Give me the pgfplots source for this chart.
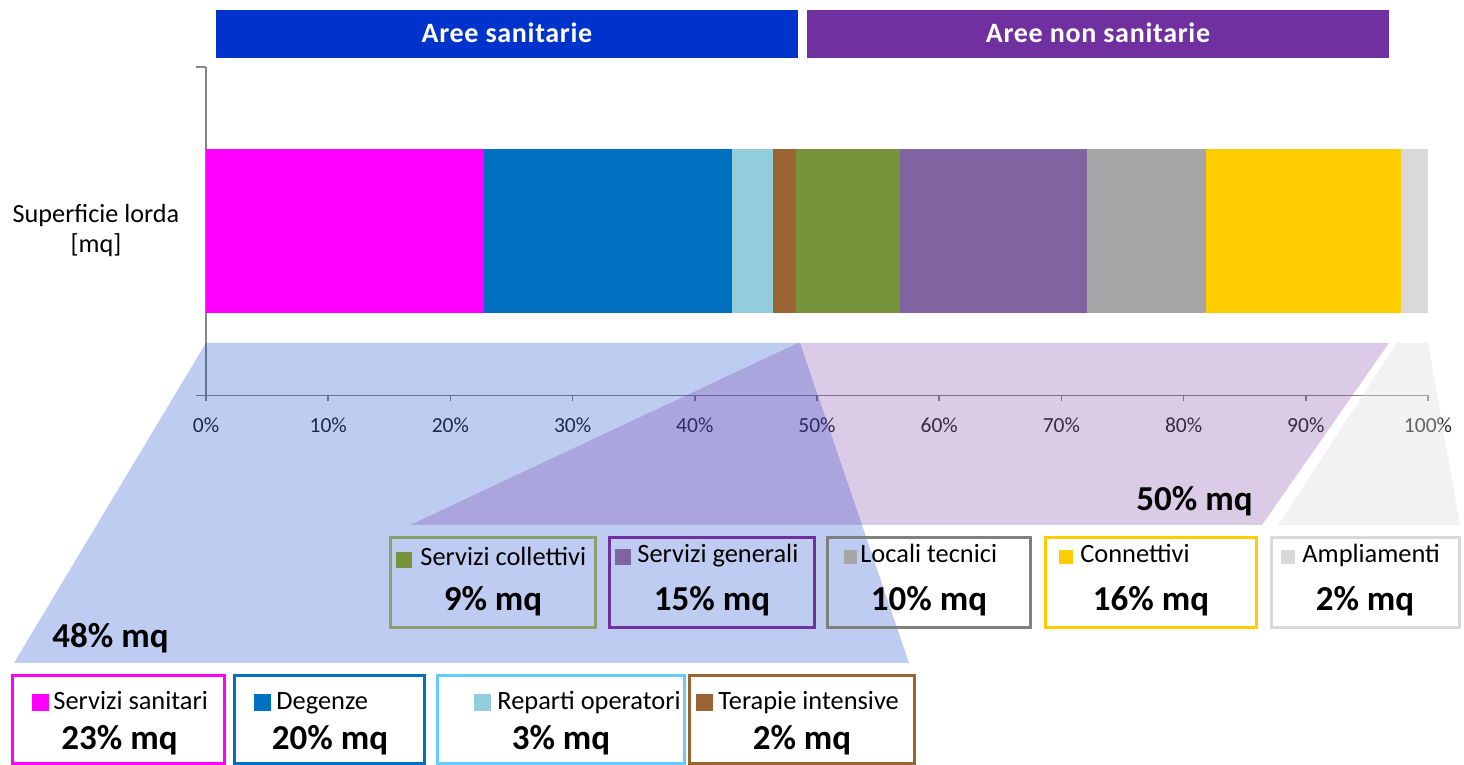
\documentclass[border=0pt]{standalone}
\usepackage{pgfplots}
\pgfplotsset{compat=1.18}
\usepackage{fontspec}
\setmainfont{Carlito}
\newfontfamily\hdr[LetterSpace=2.5]{Carlito}
\definecolor{cSan}{HTML}{FF00FF}
\definecolor{cDeg}{HTML}{0070C0}
\definecolor{cRep}{HTML}{92CDDC}
\definecolor{cTer}{HTML}{996633}
\definecolor{cCol}{HTML}{77933C}
\definecolor{cGen}{HTML}{8064A2}
\definecolor{cLoc}{HTML}{A6A6A6}
\definecolor{cCon}{HTML}{FFCC00}
\definecolor{cAmp}{HTML}{D9D9D9}
\definecolor{hblue}{HTML}{0033CC}
\definecolor{hpurple}{HTML}{7030A0}
\definecolor{axisgray}{HTML}{868686}
\definecolor{labelblack}{HTML}{262626}
\definecolor{bCol}{HTML}{8CA06E}
\definecolor{bGen}{HTML}{7030A0}
\definecolor{bLoc}{HTML}{808080}
\definecolor{bCon}{HTML}{FFCC00}
\definecolor{bAmp}{HTML}{D9D9D9}
\definecolor{bSan}{HTML}{FF00FF}
\definecolor{bDeg}{HTML}{0070C0}
\definecolor{bRep}{HTML}{66CCFF}
\definecolor{bTer}{HTML}{996633}
\newcommand{\lblfont}{\fontsize{13.2}{15}\selectfont}
\newcommand{\pctfont}{\bfseries\fontsize{17.5}{20}\selectfont}
\begin{document}
\begin{tikzpicture}
\path[use as bounding box] (-103pt,-184.75pt) rectangle (629pt,197.75pt);
\begin{axis}[
  at={(0pt,0pt)}, anchor=south west,
  scale only axis, width=611pt, height=164.25pt,
  xmin=0, xmax=100, ymin=0, ymax=1,
  xbar stacked, bar width=0.5,
  axis x line*=bottom, axis y line*=left,
  axis line style={color=axisgray, line width=0.75pt},
  xtick={0,10,...,100},
  xticklabel={\pgfmathprintnumber{\tick}\%},
  ytick={0,1}, yticklabels={},
  tick align=outside,
  major tick length=5pt,
  xtick style={color=axisgray, line width=0.75pt, /pgfplots/major tick length=3pt},
  ytick style={color=axisgray, line width=0.75pt},
  tick label style={font=\fontsize{10.75}{12}\selectfont, text=labelblack},
  /pgf/number format/assume math mode=true,
  xticklabel style={yshift=-2.5pt},
  clip=false,
]
\addplot[fill=cSan, draw=none] coordinates {(22.75,0.5)};
\addplot[fill=cDeg, draw=none] coordinates {(20.29,0.5)};
\addplot[fill=cRep, draw=none] coordinates {(3.36,0.5)};
\addplot[fill=cTer, draw=none] coordinates {(1.88,0.5)};
\addplot[fill=cCol, draw=none] coordinates {(8.51,0.5)};
\addplot[fill=cGen, draw=none] coordinates {(15.30,0.5)};
\addplot[fill=cLoc, draw=none] coordinates {(9.74,0.5)};
\addplot[fill=cCon, draw=none] coordinates {(15.96,0.5)};
\addplot[fill=cAmp, draw=none] coordinates {(2.21,0.5)};
\end{axis}
\begin{scope}[xshift=-103pt, yshift=197.75pt, x=0.5pt, y=-0.5pt]
% zoom trapezoids
\fill[hblue, opacity=0.25] (206,343) -- (800,343) -- (909,663) -- (14,663) -- cycle;
\fill[hpurple, opacity=0.25] (798,343) -- (1389,343) -- (1262,525) -- (410,525) -- cycle;
\fill[cAmp, opacity=0.34] (1397,343) -- (1428,343) -- (1460,525) -- (1278,525) -- cycle;
% headers
\fill[hblue] (216,10) rectangle (798,58);
\node[text=white, font=\hdr\bfseries\fontsize{14}{16}\selectfont, anchor=base] at (507,43) {Aree sanitarie};
\fill[hpurple] (807,10) rectangle (1389,58);
\node[text=white, font=\hdr\bfseries\fontsize{14}{16}\selectfont, anchor=base] at (1098,43) {Aree non sanitarie};
% y label
\node[align=center, text=black, font=\fontsize{13.1}{15}\selectfont] at (96,231) {Superficie lorda\\{[mq]}};
% group totals
\node[anchor=base west, font=\pctfont, inner sep=0pt] at (52,648) {48\% mq};
\node[anchor=base east, font=\pctfont, inner sep=0pt] at (1253,511) {50\% mq};
% row 1 boxes
\draw[bCol, line width=1.5pt] (390.5,537.5) rectangle (595.5,627.5);
\draw[bGen, line width=1.5pt] (609.5,537.5) rectangle (814.5,627.5);
\draw[bLoc, line width=1.5pt] (827.5,537.5) rectangle (1030,627.5);
\draw[bCon, line width=1.5pt] (1045.5,537.5) rectangle (1256,627.5);
\draw[bAmp, line width=1.5pt] (1271,537.5) rectangle (1459.5,627.5);
\fill[cCol] (396,552) rectangle (412,568);
\node[anchor=base west, inner sep=0pt, font=\lblfont] at (420,566) {Servizi collettivi};
\fill[cGen] (615,549) rectangle (631,565);
\node[anchor=base west, inner sep=0pt, font=\lblfont] at (637,563) {Servizi generali};
\fill[cLoc] (844,550) rectangle (857,564);
\node[anchor=base west, inner sep=0pt, font=\lblfont] at (860,563) {Locali tecnici};
\fill[cCon] (1059,550) rectangle (1073,564);
\node[anchor=base west, inner sep=0pt, font=\lblfont] at (1080,563) {Connettivi};
\fill[cAmp] (1281,550) rectangle (1295,564);
\node[anchor=base west, inner sep=0pt, font=\lblfont] at (1302,563) {Ampliamenti};
\node[anchor=base, inner sep=0pt, font=\pctfont] at (493,611) {9\% mq};
\node[anchor=base, inner sep=0pt, font=\pctfont] at (712,611) {15\% mq};
\node[anchor=base, inner sep=0pt, font=\pctfont] at (929,611) {10\% mq};
\node[anchor=base, inner sep=0pt, font=\pctfont] at (1151,611) {16\% mq};
\node[anchor=base, inner sep=0pt, font=\pctfont] at (1365,611) {2\% mq};
% row 2 boxes
\draw[bSan, line width=1.5pt] (13,675.5) rectangle (225,763.5);
\draw[bDeg, line width=1.5pt] (234.5,675.5) rectangle (425,763.5);
\draw[bRep, line width=1.5pt] (438,675.5) rectangle (684,763.5);
\draw[bTer, line width=1.5pt] (689.5,675.5) rectangle (914,763.5);
\fill[cSan] (32,694) rectangle (49,711);
\node[anchor=base west, inner sep=0pt, font=\lblfont] at (53,710) {Servizi sanitari};
\fill[cDeg] (254,694) rectangle (271,711);
\node[anchor=base west, inner sep=0pt, font=\lblfont] at (276,710) {Degenze};
\fill[cRep] (474,694) rectangle (491,711);
\node[anchor=base west, inner sep=0pt, font=\lblfont] at (497,710) {Reparti operatori};
\fill[cTer] (696,694) rectangle (713,711);
\node[anchor=base west, inner sep=0pt, font=\lblfont] at (718,710) {Terapie intensive};
\node[anchor=base, inner sep=0pt, font=\pctfont] at (119.5,750) {23\% mq};
\node[anchor=base, inner sep=0pt, font=\pctfont] at (330,750) {20\% mq};
\node[anchor=base, inner sep=0pt, font=\pctfont] at (561,750) {3\% mq};
\node[anchor=base, inner sep=0pt, font=\pctfont] at (802,750) {2\% mq};
\end{scope}
\end{tikzpicture}
\end{document}
